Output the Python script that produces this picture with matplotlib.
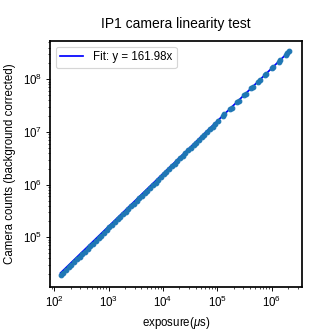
import numpy as np
import matplotlib
matplotlib.use('Agg')
import matplotlib.pyplot as plt

plt.rcParams['font.family'] = ['Liberation Sans', 'DejaVu Sans']
plt.rcParams['mathtext.fontset'] = 'custom'
plt.rcParams['mathtext.rm'] = 'Liberation Sans'
plt.rcParams['mathtext.it'] = 'Liberation Sans:italic'

# exposure (us) and background corrected counts
exposure = [130, 146, 164, 184, 206, 231, 259, 291, 326, 366, 410, 460, 516, 579, 650,
            729, 818, 918, 1030, 1155, 1296, 1454, 1631, 1830, 2053, 2304, 2585, 2900,
            3254, 3651, 4096, 4596, 5157, 5786, 6492, 7284, 8173, 9170, 10290, 11540,
            12950, 14530, 16300, 18290, 20520, 23030, 25840, 28990, 32530, 36500, 40950,
            45950, 51560, 57850, 64910, 72830, 81710, 91680, 102900,
            125000, 135000, 170000, 182000, 230000, 245000, 310000, 330000, 420000,
            445000, 560000, 600000, 750000, 800000, 1000000, 1070000, 1350000, 1440000,
            1800000, 1920000, 2100000]
counts = [19100, 21500, 24100, 27000, 30300, 34000, 38100, 42800, 47900, 53800, 60300,
          67600, 75900, 85100, 95600, 107200, 120200, 135000, 154500, 173300, 194400,
          218100, 244700, 274500, 308000, 345600, 387800, 435000, 488100, 547700,
          614400, 689400, 773600, 867900, 973800, 1093000, 1226000, 1376000, 1585000,
          1777000, 1994000, 2238000, 2510000, 2817000, 3160000, 3547000, 3979000,
          4464000, 5010000, 5621000, 6306000, 7076000, 7940000, 8909000, 9996000,
          11220000, 12580000, 14120000, 16250000,
          19900000, 21500000, 27100000, 29000000, 36700000, 39100000, 49500000,
          52700000, 67200000, 71200000, 89800000, 96200000, 120500000, 128500000,
          161000000, 172300000, 217700000, 232300000, 292000000, 311500000, 345000000]
slope = 161.98

x = np.array(exposure, dtype=float)
y = np.array(counts, dtype=float)

fig = plt.figure(figsize=(4, 4), dpi=83)
ax = fig.add_axes([0.1506, 0.1355, 0.759, 0.741])

ax.plot(x, slope * x, color='blue', lw=1.5, label='Fit: y = %.2fx' % slope, zorder=2)
ax.plot(x, y, 'o', color='#1f77b4', ms=4, zorder=3)

ax.set_xscale('log')
ax.set_yscale('log')
ax.set_xlim(10**1.92, 10**6.557)
ax.set_ylim(10**4.057, 10**8.727)

ax.set_title('IP1 camera linearity test', fontsize=12, pad=11)
ax.set_xlabel(r'exposure($\mu$s)', fontsize=10)
ax.set_ylabel('Camera counts (background corrected)', fontsize=10, labelpad=6)
ax.tick_params(labelsize=10)
for s in ax.spines.values():
    s.set_linewidth(1.5)
ax.legend(loc='upper left', fontsize=10)

fig.savefig('out.png', dpi=83)
